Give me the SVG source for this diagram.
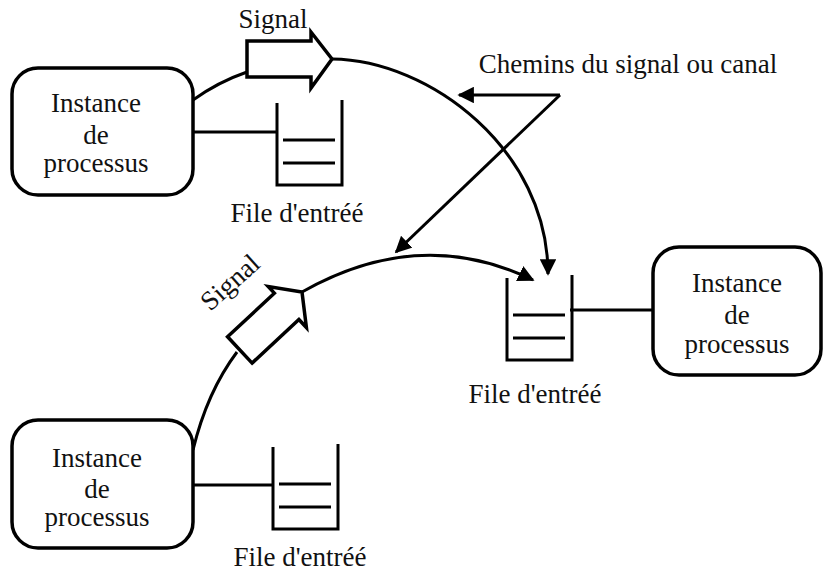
<svg xmlns="http://www.w3.org/2000/svg" width="825" height="573" viewBox="0 0 825 573">
  <defs>
    <style>
      .box { fill: #fff; stroke: #000; stroke-width: 3.5; }
      .ln { fill: none; stroke: #000; stroke-width: 3; }
      .sig { fill: #fff; stroke: #000; stroke-width: 3.5; stroke-linejoin: miter; }
    </style>
    <!-- signal arrow shape, tip at origin pointing along +x -->
    <path id="signal-shape" d="M -85,-18 L -21,-18 L -21,-27 L 0,0 L -21,29 L -21,18 L -85,18 Z"/>
    <!-- input queue: open-top container with two stacked messages -->
    <g id="queue-shape">
      <path d="M 0,0 V 82 H 65 V -3" class="ln"/>
      <line x1="6" y1="37" x2="58" y2="37" class="ln"/>
      <line x1="6" y1="60" x2="58" y2="60" class="ln"/>
    </g>
    <marker id="arrow" viewBox="0 0 10 10" refX="9" refY="5" markerWidth="5.5" markerHeight="5.5" markerUnits="strokeWidth" orient="auto">
      <path d="M0,0 L10,5 L0,10 Z" fill="#000"/>
    </marker>
  </defs>
  <rect width="825" height="573" fill="#fff"/>

  <!-- connectors -->
  <g id="connectors">
    <!-- top process: to signal and to its queue -->
    <path d="M 193,100 Q 218,82 247,72" class="ln"/>
    <line x1="193" y1="132" x2="277" y2="132" class="ln"/>
    <!-- top signal path down into right queue -->
    <path d="M 332,59 C 430,60 548,150 548,274" class="ln" marker-end="url(#arrow)"/>
    <!-- bottom process: to signal and to its queue -->
    <path d="M 193,450 Q 207,392 237,352" class="ln"/>
    <line x1="193" y1="485" x2="273" y2="485" class="ln"/>
    <!-- bottom signal path into right queue -->
    <path d="M 302,292 Q 420,225 533,280" class="ln" marker-end="url(#arrow)"/>
    <!-- right queue to right process -->
    <line x1="570" y1="310" x2="653" y2="310" class="ln"/>
    <!-- label pointers -->
    <path d="M 560,95 L 459,95" class="ln" marker-end="url(#arrow)"/>
    <path d="M 560,95 L 396,252" class="ln" marker-end="url(#arrow)"/>
  </g>

  <!-- top-left process instance -->
  <g id="process-top">
    <rect x="12" y="68" width="181" height="127" rx="26" class="box"/>
    <text x="96" y="112" font-family="Liberation Serif" font-size="27" fill="#111" text-anchor="middle">Instance</text>
    <text x="96" y="144" font-family="Liberation Serif" font-size="27" fill="#111" text-anchor="middle">de</text>
    <text x="96" y="172" font-family="Liberation Serif" font-size="27" fill="#111" text-anchor="middle">processus</text>
  </g>

  <g id="signal-top">
    <use href="#signal-shape" class="sig" transform="translate(332,59)"/>
    <text x="273" y="28" font-family="Liberation Serif" font-size="27" fill="#111" text-anchor="middle">Signal</text>
  </g>

  <g id="queue-top">
    <use href="#queue-shape" transform="translate(277,103)"/>
    <text x="297" y="222" font-family="Liberation Serif" font-size="27" fill="#111" text-anchor="middle">File d'entréé</text>
  </g>

  <!-- bottom-left process instance -->
  <g id="process-bottom">
    <rect x="12" y="420" width="181" height="128" rx="26" class="box"/>
    <text x="97" y="467" font-family="Liberation Serif" font-size="27" fill="#111" text-anchor="middle">Instance</text>
    <text x="97" y="498" font-family="Liberation Serif" font-size="27" fill="#111" text-anchor="middle">de</text>
    <text x="97" y="526" font-family="Liberation Serif" font-size="27" fill="#111" text-anchor="middle">processus</text>
  </g>

  <g id="signal-bottom">
    <use href="#signal-shape" class="sig" transform="translate(302,292) rotate(-43)"/>
    <text transform="translate(236,289) rotate(-42)" font-family="Liberation Serif" font-size="27" fill="#111" text-anchor="middle">Signal</text>
  </g>

  <g id="queue-bottom">
    <use href="#queue-shape" transform="translate(273,447)"/>
    <text x="300" y="566" font-family="Liberation Serif" font-size="27" fill="#111" text-anchor="middle">File d'entréé</text>
  </g>

  <!-- right process instance -->
  <g id="process-right">
    <rect x="653" y="247" width="168" height="128" rx="26" class="box"/>
    <text x="737" y="292" font-family="Liberation Serif" font-size="27" fill="#111" text-anchor="middle">Instance</text>
    <text x="737" y="324" font-family="Liberation Serif" font-size="27" fill="#111" text-anchor="middle">de</text>
    <text x="737" y="353" font-family="Liberation Serif" font-size="27" fill="#111" text-anchor="middle">processus</text>
  </g>

  <g id="queue-right">
    <use href="#queue-shape" transform="translate(507,278)"/>
    <text x="535" y="403" font-family="Liberation Serif" font-size="27" fill="#111" text-anchor="middle">File d'entréé</text>
  </g>

  <!-- channel caption -->
  <text id="caption" x="628" y="73" font-family="Liberation Serif" font-size="27" fill="#111" text-anchor="middle">Chemins du signal ou canal</text>
</svg>
